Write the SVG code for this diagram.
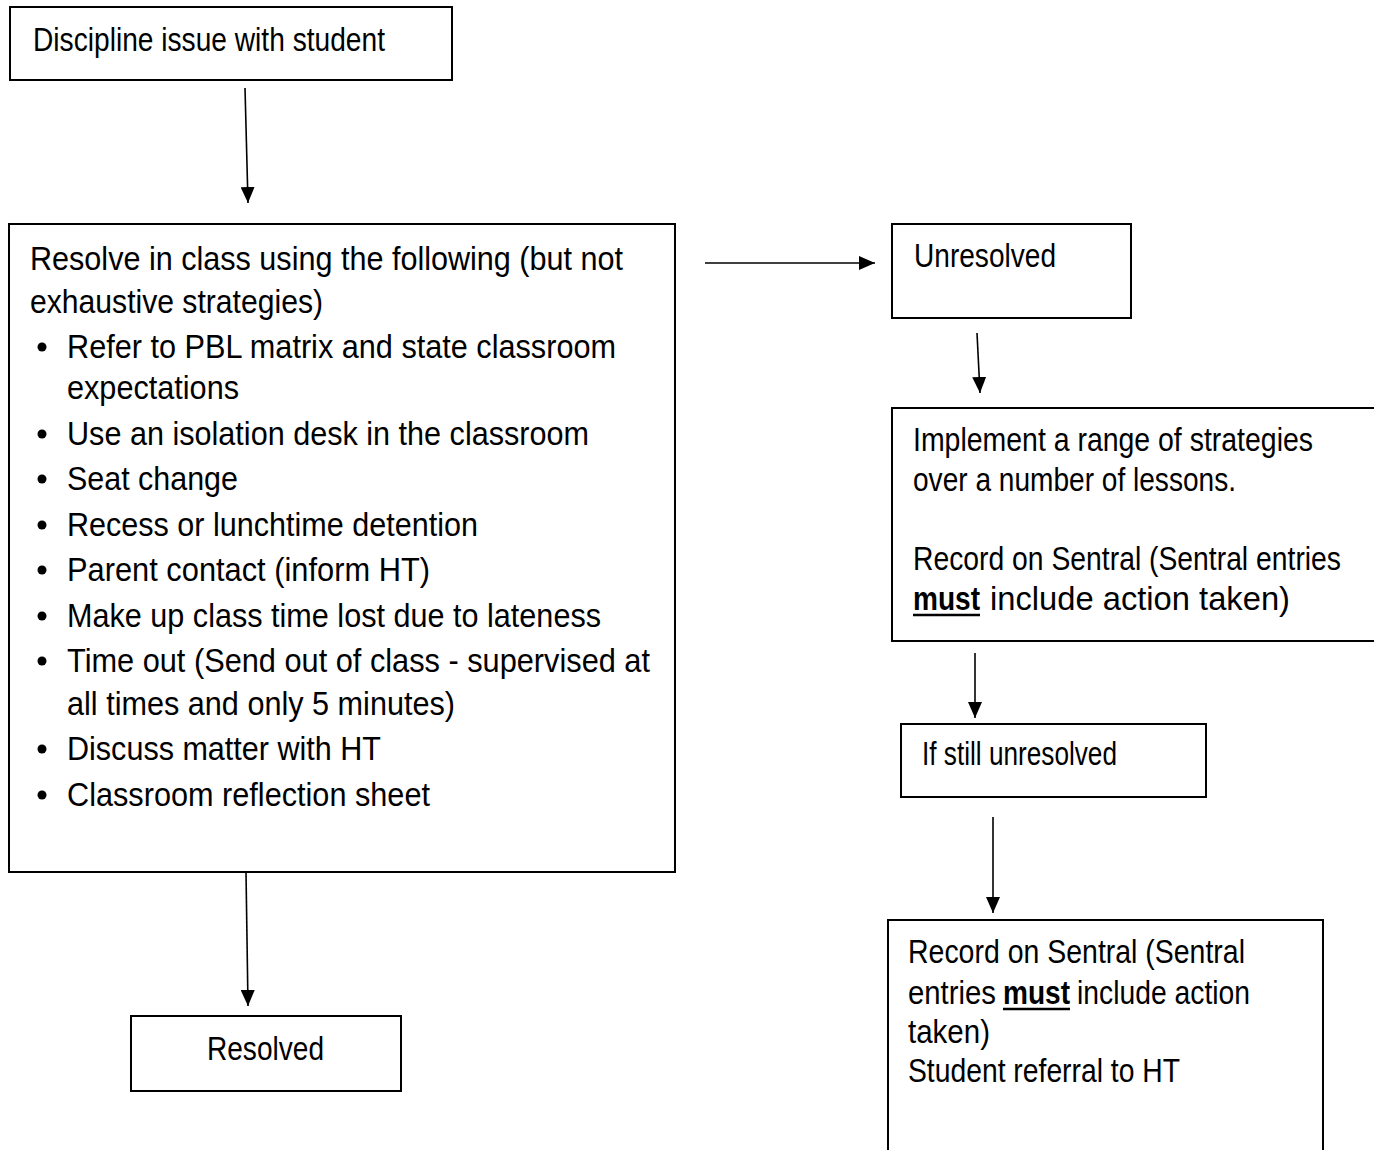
<svg xmlns="http://www.w3.org/2000/svg" width="1374" height="1150" viewBox="0 0 1374 1150">
<style>
  .box { fill: #ffffff; stroke: #000000; stroke-width: 2; }
  .t { font-family: "Liberation Sans", Arial, sans-serif; font-size: 33px; fill: #000000; }
  .c { stroke: #000000; stroke-width: 1.6; fill: none; }
  .b { font-weight: bold; }
  .u { stroke: #000000; stroke-width: 2.5; }
</style>
<defs>
  <marker id="ah" viewBox="0 0 16 14" refX="16" refY="7" markerWidth="16" markerHeight="14" markerUnits="userSpaceOnUse" orient="auto">
    <path d="M0,0 L16,7 L0,14 Z" fill="#000"/>
  </marker>
</defs>
<rect width="1374" height="1150" fill="#ffffff"/>

<g id="connectors">
  <line class="c" x1="245" y1="88" x2="248" y2="203" marker-end="url(#ah)"/>
  <line class="c" x1="705" y1="263" x2="875" y2="263" marker-end="url(#ah)"/>
  <line class="c" x1="977" y1="333" x2="980" y2="393" marker-end="url(#ah)"/>
  <line class="c" x1="975" y1="653" x2="975" y2="718" marker-end="url(#ah)"/>
  <line class="c" x1="993" y1="817" x2="993" y2="913" marker-end="url(#ah)"/>
  <line class="c" x1="246" y1="872" x2="248" y2="1006" marker-end="url(#ah)"/>
</g>

<g id="node-discipline">
  <rect class="box" x="10" y="7" width="442" height="73"/>
  <text class="t" x="33" y="51" textLength="352" lengthAdjust="spacingAndGlyphs">Discipline issue with student</text>
</g>

<g id="node-resolve-in-class">
  <rect class="box" x="9" y="224" width="666" height="648"/>
  <text class="t" x="30" y="270" textLength="593" lengthAdjust="spacingAndGlyphs">Resolve in class using the following (but not</text>
  <text class="t" x="30" y="313" textLength="293" lengthAdjust="spacingAndGlyphs">exhaustive strategies)</text>
  <g fill="#000">
    <circle cx="42" cy="347" r="4.5"/>
    <circle cx="42" cy="434" r="4.5"/>
    <circle cx="42" cy="479" r="4.5"/>
    <circle cx="42" cy="525" r="4.5"/>
    <circle cx="42" cy="570" r="4.5"/>
    <circle cx="42" cy="616" r="4.5"/>
    <circle cx="42" cy="661" r="4.5"/>
    <circle cx="42" cy="749" r="4.5"/>
    <circle cx="42" cy="795" r="4.5"/>
  </g>
  <text class="t" x="67" y="358" textLength="549" lengthAdjust="spacingAndGlyphs">Refer to PBL matrix and state classroom</text>
  <text class="t" x="67" y="399" textLength="172" lengthAdjust="spacingAndGlyphs">expectations</text>
  <text class="t" x="67" y="445" textLength="522" lengthAdjust="spacingAndGlyphs">Use an isolation desk in the classroom</text>
  <text class="t" x="67" y="490" textLength="171" lengthAdjust="spacingAndGlyphs">Seat change</text>
  <text class="t" x="67" y="536" textLength="411" lengthAdjust="spacingAndGlyphs">Recess or lunchtime detention</text>
  <text class="t" x="67" y="581" textLength="363" lengthAdjust="spacingAndGlyphs">Parent contact (inform HT)</text>
  <text class="t" x="67" y="627" textLength="534" lengthAdjust="spacingAndGlyphs">Make up class time lost due to lateness</text>
  <text class="t" x="67" y="672" textLength="583" lengthAdjust="spacingAndGlyphs">Time out (Send out of class - supervised at</text>
  <text class="t" x="67" y="715" textLength="388" lengthAdjust="spacingAndGlyphs">all times and only 5 minutes)</text>
  <text class="t" x="67" y="760" textLength="314" lengthAdjust="spacingAndGlyphs">Discuss matter with HT</text>
  <text class="t" x="67" y="806" textLength="363" lengthAdjust="spacingAndGlyphs">Classroom reflection sheet</text>
</g>

<g id="node-unresolved">
  <rect class="box" x="892" y="224" width="239" height="94"/>
  <text class="t" x="914" y="267" textLength="142" lengthAdjust="spacingAndGlyphs">Unresolved</text>
</g>

<g id="node-implement">
  <rect class="box" x="892" y="408" width="490" height="233"/>
  <text class="t" x="913" y="451" textLength="400" lengthAdjust="spacingAndGlyphs">Implement a range of strategies</text>
  <text class="t" x="913" y="491" textLength="323" lengthAdjust="spacingAndGlyphs">over a number of lessons.</text>
  <text class="t" x="913" y="570" textLength="428" lengthAdjust="spacingAndGlyphs">Record on Sentral (Sentral entries</text>
  <text class="t b" x="913" y="610" textLength="67" lengthAdjust="spacingAndGlyphs">must</text>
  <line class="u" x1="913" y1="615" x2="980" y2="615"/>
  <text class="t" x="990" y="610" textLength="300" lengthAdjust="spacingAndGlyphs">include action taken)</text>
</g>

<g id="node-still-unresolved">
  <rect class="box" x="901" y="724" width="305" height="73"/>
  <text class="t" x="922" y="765" textLength="195" lengthAdjust="spacingAndGlyphs">If still unresolved</text>
</g>

<g id="node-referral">
  <rect class="box" x="888" y="920" width="435" height="240"/>
  <text class="t" x="908" y="963" textLength="337" lengthAdjust="spacingAndGlyphs">Record on Sentral (Sentral</text>
  <text class="t" x="908" y="1004" textLength="88" lengthAdjust="spacingAndGlyphs">entries</text>
  <text class="t b" x="1003" y="1004" textLength="67" lengthAdjust="spacingAndGlyphs">must</text>
  <line class="u" x1="1003" y1="1009" x2="1070" y2="1009"/>
  <text class="t" x="1077" y="1004" textLength="173" lengthAdjust="spacingAndGlyphs">include action</text>
  <text class="t" x="908" y="1043" textLength="82" lengthAdjust="spacingAndGlyphs">taken)</text>
  <text class="t" x="908" y="1082" textLength="272" lengthAdjust="spacingAndGlyphs">Student referral to HT</text>
</g>

<g id="node-resolved">
  <rect class="box" x="131" y="1016" width="270" height="75"/>
  <text class="t" x="207" y="1060" textLength="117" lengthAdjust="spacingAndGlyphs">Resolved</text>
</g>
</svg>
